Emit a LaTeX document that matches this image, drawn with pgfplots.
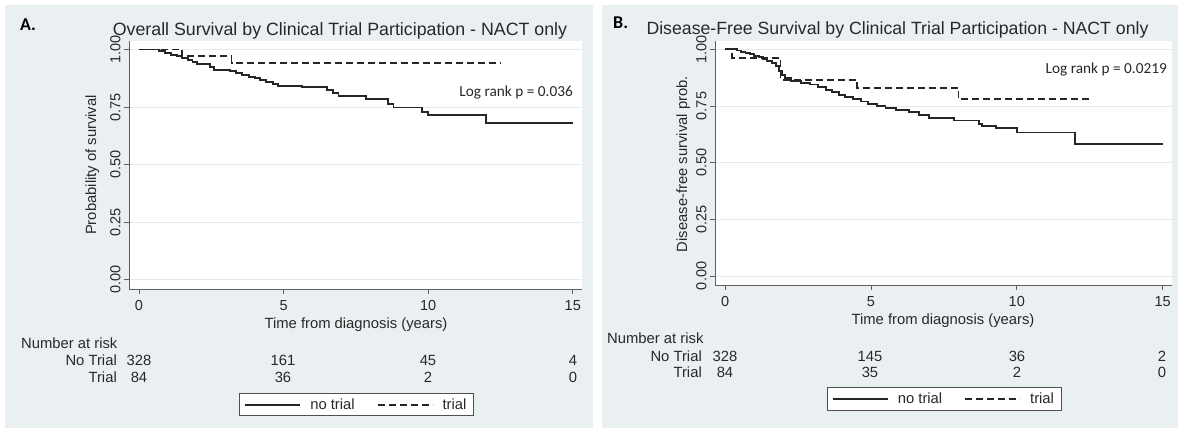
\documentclass[border=0pt]{standalone}
\usepackage{fontspec}
\setmainfont{Liberation Sans}
\newfontfamily\calib{Carlito}
\usepackage{pgfplots}
\pgfplotsset{compat=1.18}
\definecolor{bgc}{RGB}{234,240,242}
\definecolor{axc}{RGB}{95,95,95}
\definecolor{gridc}{RGB}{230,234,236}
\definecolor{curve}{RGB}{38,38,38}
\definecolor{txt}{RGB}{40,40,40}
\definecolor{legc}{RGB}{80,80,80}
\newcommand{\fs}{\fontsize{14.8bp}{17bp}\selectfont}
\pgfplotsset{
  km/.style={
    scale only axis,
    xmin=-0.345, xmax=15.32, ymin=-0.04, ymax=1.037,
    axis x line*=bottom, axis y line*=left,
    axis line style={draw=axc, line width=0.9bp, -},
    xtick={0,5,10,15}, ytick={0,0.25,0.5,0.75,1},
    yticklabels={0.00,0.25,0.50,0.75,1.00},
    tick style={draw=axc, line width=0.8bp},
    tick align=outside, major tick length=5bp,
    ymajorgrids, grid style={draw=gridc, line width=0.8bp},
    axis background/.style={fill=white},
    tick label style={font=\fontsize{14.5bp}{16bp}\selectfont, text=txt},
    xticklabel style={yshift=-5.5bp, inner sep=1bp},
    yticklabel style={rotate=90, anchor=south},
    /pgf/number format/assume math mode=true,
    legend columns=2,
    legend style={draw=legc, fill=white, line width=0.9bp,
      font=\fs, text=txt, inner xsep=5bp, inner ysep=3bp,
      /tikz/every odd column/.append style={column sep=7bp},
      /tikz/every even column/.append style={column sep=20bp}},
    legend image code/.code={\draw[##1] (0bp,0bp) -- (55bp,0bp);},
  },
  nt/.style={const plot, draw=curve, line width=1.9bp},
  tr/.style={const plot, draw=curve, line width=1.9bp, dash pattern=on 7bp off 4bp},
}
\begin{document}
\begin{tikzpicture}
\useasboundingbox (0bp,0bp) rectangle (1178bp,428bp);
\fill[white] (0bp,0bp) rectangle (1178bp,428bp);
\fill[bgc] (5bp,0bp) rectangle (593bp,423bp);
\fill[bgc] (602bp,0bp) rectangle (1178bp,423bp);

% ---------------- Panel A ----------------
\begin{axis}[km, at={(129bp,139bp)}, anchor=south west, width=453bp, height=248bp,
  legend style={at={(axis description cs:0.502,-0.466)}, anchor=center}]
\addplot[nt] coordinates {(0,1) (0.7,0.993) (0.9,0.985) (1.1,0.978) (1.3,0.97) (1.5,0.962) (1.7,0.955) (1.85,0.945) (2.0,0.937) (2.45,0.926) (2.6,0.912) (3.15,0.905) (3.35,0.897) (3.55,0.889) (3.8,0.882) (4.0,0.876) (4.2,0.866) (4.4,0.858) (4.65,0.85) (4.8,0.843) (5.65,0.836) (6.5,0.826) (6.7,0.812) (6.9,0.797) (7.85,0.784) (8.6,0.765) (8.8,0.748) (9.8,0.728) (10.0,0.717) (12.0,0.68) (15.0,0.68)};
\addlegendentry{no trial}
\addplot[tr] coordinates {(0,1) (1.5,0.97) (3.2,0.942) (12.5,0.942)};
\addlegendentry{trial}
\end{axis}

% ---------------- Panel B ----------------
\begin{axis}[km, at={(715bp,143bp)}, anchor=south west, width=457bp, height=244bp,
  legend style={at={(axis description cs:0.501,-0.467)}, anchor=center}]
\addplot[nt] coordinates {(0,1) (0.4,0.995) (0.55,0.99) (0.7,0.984) (0.85,0.978) (1.0,0.972) (1.15,0.965) (1.3,0.958) (1.45,0.95) (1.6,0.94) (1.75,0.925) (1.85,0.905) (1.95,0.885) (2.05,0.872) (2.25,0.862) (2.6,0.853) (2.9,0.845) (3.2,0.833) (3.45,0.822) (3.65,0.81) (3.9,0.8) (4.1,0.79) (4.4,0.78) (4.65,0.77) (4.9,0.76) (5.2,0.75) (5.5,0.742) (5.85,0.733) (6.3,0.722) (6.65,0.71) (7.0,0.697) (7.85,0.686) (8.7,0.67) (8.8,0.662) (9.3,0.652) (10.0,0.633) (12.0,0.581) (15.0,0.581)};
\addlegendentry{no trial}
\addplot[tr] coordinates {(0,1) (0.25,0.963) (1.9,0.866) (4.53,0.831) (8.0,0.78) (12.53,0.78)};
\addlegendentry{trial}
\end{axis}

\begin{scope}[x=1bp,y=1bp]
% ---------------- Text, panel A ----------------
\node[anchor=base west, inner sep=0, font=\calib\bfseries\fontsize{18bp}{20bp}\selectfont] at (20,397) {A.};
\node[anchor=base, inner sep=0, font=\fontsize{17.8bp}{20bp}\selectfont, text=txt] at (340,392) {Overall Survival by Clinical Trial Participation - NACT only};
\node[anchor=base east, inner sep=0, font=\calib\fontsize{15.3bp}{17bp}\selectfont, text=txt] at (573,332) {Log rank p = 0.036};
\node[anchor=base, inner sep=0, rotate=90, font=\fs, text=txt] at (96,263) {Probability of survival};
\node[anchor=base, inner sep=0, font=\fs, text=txt] at (356,100) {Time from diagnosis (years)};
\node[anchor=base west, inner sep=0, font=\fs, text=txt] at (21,80) {Number at risk};
\node[anchor=base east, inner sep=0, font=\fs, text=txt] at (117,63) {No Trial};
\node[anchor=base east, inner sep=0, font=\fs, text=txt] at (117,46) {Trial};
\foreach \x/\v in {139/328,283/161,428/45,573/4}
  \node[anchor=base, inner sep=0, font=\fs, text=txt] at (\x,63) {\v};
\foreach \x/\v in {139/84,283/36,428/2,573/0}
  \node[anchor=base, inner sep=0, font=\fs, text=txt] at (\x,46) {\v};

% ---------------- Text, panel B ----------------
\node[anchor=base west, inner sep=0, font=\calib\bfseries\fontsize{18bp}{20bp}\selectfont] at (613,399) {B.};
\node[anchor=base, inner sep=0, font=\fontsize{17.7bp}{20bp}\selectfont, text=txt] at (897.5,393) {Disease-Free Survival by Clinical Trial Participation - NACT only};
\node[anchor=base east, inner sep=0, font=\calib\fontsize{15.3bp}{17bp}\selectfont, text=txt] at (1167,355) {Log rank p = 0.0219};
\node[anchor=base, inner sep=0, rotate=90, font=\fs, text=txt] at (687,264) {Disease-free survival prob.};
\node[anchor=base, inner sep=0, font=\fs, text=txt] at (943,104) {Time from diagnosis (years)};
\node[anchor=base west, inner sep=0, font=\fs, text=txt] at (607,85) {Number at risk};
\node[anchor=base east, inner sep=0, font=\fs, text=txt] at (702,67) {No Trial};
\node[anchor=base east, inner sep=0, font=\fs, text=txt] at (702,51) {Trial};
\foreach \x/\v in {725/328,870/145,1017/36,1162/2}
  \node[anchor=base, inner sep=0, font=\fs, text=txt] at (\x,67) {\v};
\foreach \x/\v in {725/84,870/35,1017/2,1162/0}
  \node[anchor=base, inner sep=0, font=\fs, text=txt] at (\x,51) {\v};
\end{scope}
\end{tikzpicture}
\end{document}
